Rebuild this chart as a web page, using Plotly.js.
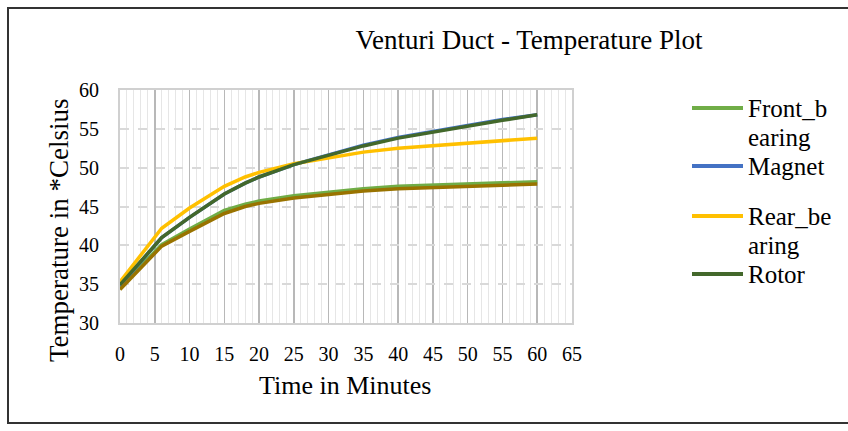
<!DOCTYPE html>
<html>
<head>
<meta charset="utf-8">
<script src="https://cdn.plot.ly/plotly-3.0.1.min.js"></script>
<style>
  html, body { margin: 0; padding: 0; background: #ffffff; }
  #wrap { position: relative; width: 848px; height: 431px; }
  #chart { width: 848px; height: 431px; }
  #frame { position: absolute; left: 7px; top: 7px; width: 843px; height: 417px;
           border: 2px solid #333333; box-sizing: border-box; pointer-events: none; }
</style>
</head>
<body>
<div id="wrap"><div id="chart"></div><div id="frame"></div></div>
<script>
// ---- data ----
const timeMin = [0, 6, 10, 15, 18, 20, 25, 30, 35, 40, 45, 50, 55, 60];
const frontBearing = [34.6, 40.1, 42.1, 44.5, 45.3, 45.7, 46.4, 46.9, 47.3, 47.6, 47.75, 47.9, 48.0, 48.2];
const magnet       = [34.8, 41.0, 43.6, 46.6, 48.0, 48.8, 50.4, 51.7, 52.9, 53.9, 54.7, 55.5, 56.2, 56.8];
const rearBearing  = [35.3, 42.2, 44.8, 47.6, 48.8, 49.4, 50.5, 51.3, 52.0, 52.5, 52.8, 53.1, 53.5, 53.8];
const rotor        = [34.9, 41.0, 43.6, 46.6, 48.0, 48.8, 50.4, 51.6, 52.8, 53.8, 54.6, 55.3, 56.1, 56.8];
const fifthSeries  = [34.3, 39.9, 41.8, 44.1, 45.0, 45.4, 46.1, 46.6, 47.0, 47.3, 47.45, 47.6, 47.75, 47.9];

const seriesNames  = ["Front_bearing", "Magnet", "Rear_bearing", "Rotor"];
const legendLines  = [["Front_b", "earing"], ["Magnet"], ["Rear_be", "aring"], ["Rotor"]];
const seriesColors = ["#70AD47", "#4472C4", "#FFC000", "#43682B"];
const fifthColor   = "#997300";

const titleText  = "Venturi Duct - Temperature Plot";
const xTitleText = "Time in Minutes";
const yTitleText = "Temperature in *Celsius";

// ---- layout geometry helpers (pixel -> paper) ----
const W = 848, H = 431;
const M = { l: 120, r: 276, t: 90, b: 108 };
const PW = W - M.l - M.r, PH = H - M.t - M.b;
const px2x = p => (p - M.l) / PW;
const py2y = p => (H - M.b - p) / PH;

const FONT = "Liberation Serif, Times New Roman, serif";
const seriesData = [frontBearing, magnet, rearBearing, rotor];

const traces = seriesData.map((ys, i) => ({
  x: timeMin, y: ys, type: "scatter", mode: "lines", name: seriesNames[i],
  line: { color: seriesColors[i], width: 3.5 }, showlegend: false
}));
traces.push({
  x: timeMin, y: fifthSeries, type: "scatter", mode: "lines", name: "Series 5",
  line: { color: fifthColor, width: 3.5 }, showlegend: false
});

// manual legend (Excel style, wrapped names)
const legendY = [108, 166, 216, 274];
const lineGap = 29;
const shapes = [];
const annotations = [];
legendLines.forEach((lines, i) => {
  shapes.push({ type: "line", xref: "paper", yref: "paper",
    x0: px2x(692), x1: px2x(743), y0: py2y(legendY[i]), y1: py2y(legendY[i]),
    line: { color: seriesColors[i], width: 4 } });
  lines.forEach((t, k) => {
    annotations.push({ xref: "paper", yref: "paper", x: px2x(747), y: py2y(legendY[i] + k * lineGap),
      xanchor: "left", yanchor: "middle", showarrow: false, text: t, borderpad: 0,
      font: { family: FONT, size: 25, color: "#000000" } });
  });
});
annotations.push({ xref: "paper", yref: "paper", x: px2x(345), y: py2y(385),
  xanchor: "center", yanchor: "middle", showarrow: false, text: xTitleText,
  font: { family: FONT, size: 26, color: "#000000" } });
annotations.push({ xref: "paper", yref: "paper", x: px2x(59), y: py2y(230),
  xanchor: "center", yanchor: "middle", showarrow: false, text: yTitleText, textangle: -90,
  font: { family: FONT, size: 27, color: "#000000" } });

const layout = {
  width: W, height: H,
  margin: M,
  paper_bgcolor: "#ffffff", plot_bgcolor: "#ffffff",
  showlegend: false,
  title: { text: titleText, x: 529 / W, xanchor: "center", xref: "container",
           y: 1 - 40 / H, yanchor: "middle", yref: "container",
           font: { family: FONT, size: 27, color: "#000000" } },
  xaxis: {
    range: [0, 65], tickmode: "linear", tick0: 0, dtick: 5,
    showgrid: true, gridcolor: "#b8b8b8", gridwidth: 1.5,
    minor: { dtick: 1, showgrid: true, gridcolor: "#e6e6e6", gridwidth: 1 },
    showline: true, linecolor: "#d0d0d0", linewidth: 2, mirror: true,
    zeroline: false, ticks: "", ticklabelstandoff: 12,
    tickfont: { family: FONT, size: 20, color: "#000000" }
  },
  yaxis: {
    range: [30, 60], tickmode: "linear", tick0: 30, dtick: 5,
    showgrid: true, gridcolor: "#d9d9d9", gridwidth: 2, griddash: "dash",
    showline: true, linecolor: "#d0d0d0", linewidth: 2, mirror: true,
    zeroline: false, ticks: "", ticklabelstandoff: 15,
    tickfont: { family: FONT, size: 20, color: "#000000" }
  },
  shapes: shapes,
  annotations: annotations
};

Plotly.newPlot("chart", traces, layout, { displayModeBar: false, staticPlot: true });
</script>
</body>
</html>
